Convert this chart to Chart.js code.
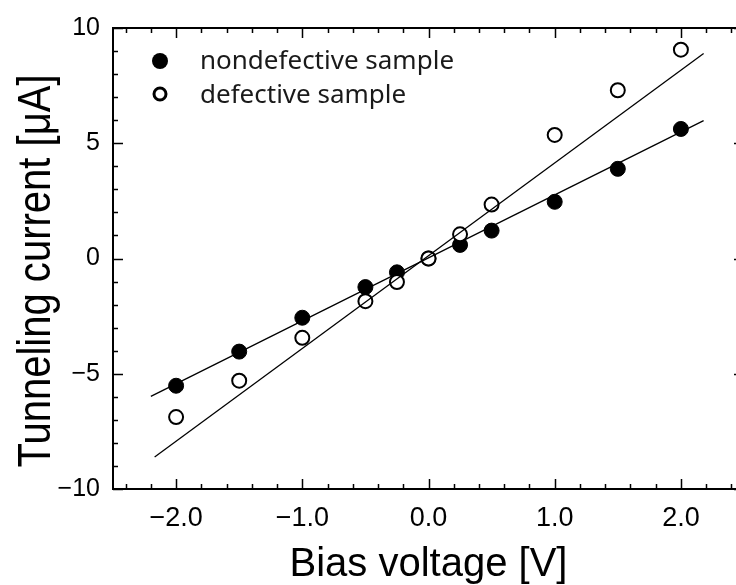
<!DOCTYPE html>
<html>
<head>
<meta charset="utf-8">
<script src="https://cdn.jsdelivr.net/npm/chart.js@4.4.1/dist/chart.umd.min.js"></script>
<style>
  html, body { margin: 0; padding: 0; background: #fff; overflow: hidden; }
  #wrap { position: relative; width: 736px; height: 585px; overflow: hidden; }
  canvas { position: absolute; left: 0; top: 0; }
</style>
</head>
<body>
<div id="wrap"><canvas id="c" width="760" height="585"></canvas></div>
<script>
// ---- data ----
const voltage = [-2, -1.5, -1, -0.5, -0.25, 0, 0.25, 0.5, 1, 1.5, 2];
const nondefective = [-5.52, -4.04, -2.57, -1.24, -0.6, 0, 0.59, 1.21, 2.46, 3.89, 5.62];
const defective = [-6.88, -5.3, -3.44, -1.85, -1.02, 0, 1.05, 2.34, 5.36, 7.3, 9.06];
const fitNonX = [-2.2, 2.18];
const fitNonY = [-5.98, 5.98];
const fitDefX = [-2.17, 2.18];
const fitDefY = [-8.61, 8.89];
const xTickValues = [-2, -1, 0, 1, 2];
const xTickLabels = ['\u22122.0', '\u22121.0', '0.0', '1.0', '2.0'];
const yTickValues = [-10, -5, 0, 5, 10];
const yTickLabels = ['\u221210', '\u22125', '0', '5', '10'];
const seriesNames = ['nondefective sample', 'defective sample'];
const xTitle = 'Bias voltage [V]';
const yTitle = 'Tunneling current [\u03bcA]';

const FONT = '"Liberation Sans", Arial, sans-serif';
const toPts = (xs, ys) => xs.map((x, i) => ({x: x, y: ys[i]}));

const framePlugin = {
  id: 'frame',
  afterDraw(chart) {
    const {ctx, chartArea: a, scales: {x, y}} = chart;
    ctx.save();
    ctx.strokeStyle = '#000';
    // ticks
    ctx.lineWidth = 1.5;
    ctx.beginPath();
    for (let i = -12; i <= 12; i++) {
      const v = i / 5;
      const px = Math.round(x.getPixelForValue(v)) + 0.5;
      const len = (i % 5 === 0) ? 10 : 5;
      ctx.moveTo(px, a.bottom); ctx.lineTo(px, a.bottom - len);
      ctx.moveTo(px, a.top); ctx.lineTo(px, a.top + len);
    }
    for (let v = -10; v <= 10; v++) {
      const py = Math.round(y.getPixelForValue(v)) + 0.5;
      const len = (v % 5 === 0) ? 10 : 5;
      ctx.moveTo(a.left, py); ctx.lineTo(a.left + len, py);
      ctx.moveTo(a.right, py); ctx.lineTo(a.right - len, py);
    }
    ctx.stroke();
    // frame
    ctx.lineWidth = 2;
    ctx.strokeRect(a.left, a.top, a.right - a.left, a.bottom - a.top);
    // legend
    ctx.fillStyle = '#000';
    ctx.beginPath(); ctx.arc(160, 61, 8, 0, Math.PI * 2); ctx.fill();
    ctx.lineWidth = 3;
    ctx.beginPath(); ctx.arc(160, 94, 6, 0, Math.PI * 2); ctx.stroke();
    ctx.fillStyle = '#1a1a1a';
    ctx.font = '26px "Noto Sans", sans-serif';
    ctx.textBaseline = 'middle';
    ctx.textAlign = 'left';
    ctx.fillText(seriesNames[0], 200, 62);
    ctx.fillText(seriesNames[1], 200, 96);
    // y axis title (slightly condensed like the original)
    ctx.fillStyle = '#000';
    ctx.font = '46px "Liberation Sans", sans-serif';
    ctx.textBaseline = 'alphabetic';
    ctx.textAlign = 'center';
    ctx.translate(50, 271);
    ctx.rotate(-Math.PI / 2);
    ctx.scale(0.87, 1);
    ctx.fillText(yTitle, 0, 0);
    ctx.restore();
  }
};

new Chart(document.getElementById('c'), {
  type: 'scatter',
  data: {
    datasets: [
      { label: seriesNames[0], data: toPts(voltage, nondefective), order: 3,
        pointRadius: 7.5, pointBackgroundColor: '#000', pointBorderColor: '#000', pointBorderWidth: 1, showLine: false },
      { label: seriesNames[1], data: toPts(voltage, defective), order: 2,
        pointRadius: 7, pointBackgroundColor: '#fff', pointBorderColor: '#000', pointBorderWidth: 2, showLine: false },
      { label: 'fit1', data: toPts(fitNonX, fitNonY), order: 1, showLine: true,
        pointRadius: 0, borderColor: '#000', borderWidth: 1.3, fill: false },
      { label: 'fit2', data: toPts(fitDefX, fitDefY), order: 0, showLine: true,
        pointRadius: 0, borderColor: '#000', borderWidth: 1.3, fill: false }
    ]
  },
  options: {
    responsive: false,
    animation: false,
    events: [],
    layout: { padding: { left: 0, top: 25, right: 16, bottom: 0 } },
    plugins: { legend: { display: false }, tooltip: { enabled: false } },
    scales: {
      x: {
        type: 'linear', position: 'bottom', min: -2.5, max: 2.5,
        afterBuildTicks: s => { s.ticks = xTickValues.map(v => ({value: v})); },
        afterFit: s => { s.height = 96; },
        grid: { display: false, drawTicks: false },
        border: { display: false },
        ticks: { font: { family: FONT, size: 27 }, color: '#000', padding: 13, maxRotation: 0, autoSkip: false,
          callback: v => { const i = xTickValues.indexOf(v); return i >= 0 ? xTickLabels[i] : ''; } },
        title: { display: true, text: xTitle, color: '#000',
          font: { family: FONT, size: 40, lineHeight: 1 }, padding: { top: 0, bottom: 0 } }
      },
      y: {
        type: 'linear', position: 'left', min: -10, max: 10,
        afterBuildTicks: s => { s.ticks = yTickValues.map(v => ({value: v})); },
        afterFit: s => { s.width = 113; },
        grid: { display: false, drawTicks: false },
        border: { display: false },
        ticks: { font: { family: FONT, size: 25 }, color: '#000', padding: 13, autoSkip: false,
          callback: v => { const i = yTickValues.indexOf(v); return i >= 0 ? yTickLabels[i] : ''; } },
        title: { display: false, text: yTitle }
      }
    }
  },
  plugins: [framePlugin]
});
</script>
</body>
</html>
